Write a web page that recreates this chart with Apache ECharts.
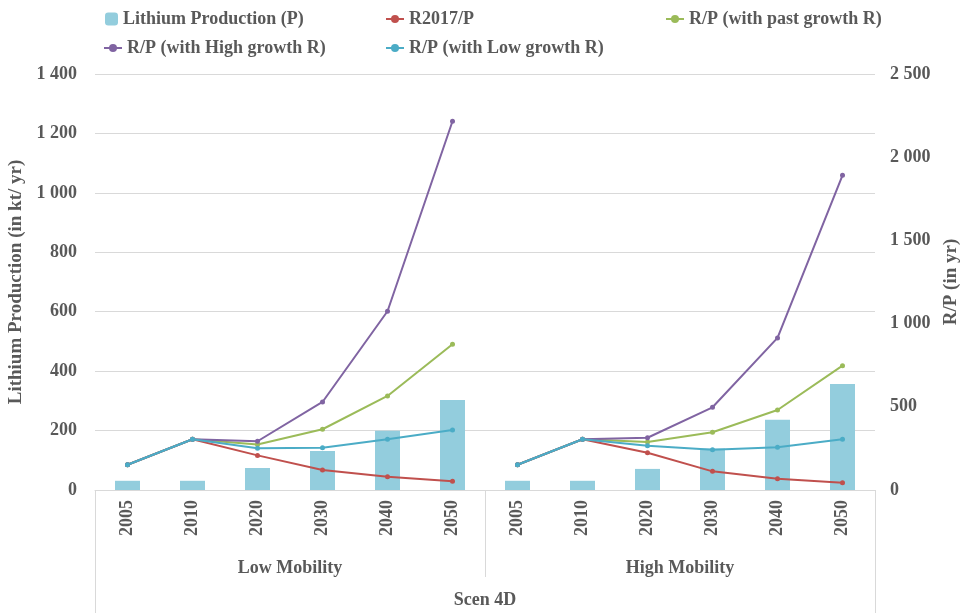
<!DOCTYPE html>
<html>
<head>
<meta charset="utf-8">
<title>Scen 4D - Lithium</title>
<script src="https://cdn.jsdelivr.net/npm/echarts@6/dist/echarts.min.js"></script>
<style>
    html, body { margin: 0; padding: 0; background: #fff; }
    #main { width: 962px; height: 613px; }
</style>
</head>
<body>
<div id="main"></div>
<script>
// categories
var years = ["2005", "2010", "2020", "2030", "2040", "2050"];
var groups = ["Low Mobility", "High Mobility"];
var scenario = ["Scen 4D"];

// Lithium production (kt/yr), left axis
var prodLow = [31, 31, 74, 131, 199, 303];
var prodHigh = [31, 31, 71, 140, 236, 357];

// R/P (yr), right axis
var r2017Low = [152, 305, 208, 120, 80, 52];
var r2017High = [152, 305, 224, 112, 68, 44];
var pastLow = [152, 305, 274, 365, 565, 876];
var pastHigh = [152, 305, 288, 347, 481, 747];
var highLow = [152, 305, 293, 529, 1074, 2216];
var highHigh = [152, 305, 314, 497, 914, 1891];
var lowLow = [152, 305, 251, 254, 305, 361];
var lowHigh = [152, 305, 266, 242, 257, 305];

var leftTicks = { min: 0, max: 1400, interval: 200 };
var rightTicks = { min: 0, max: 2500, interval: 500 };

var charts_view = (function () {
    var FONT = "'Liberation Serif', 'Times New Roman', serif",
        SIZE = 18,
        TEXT = "#595959",
        GRID_LINE = "#d9d9d9";

    // 1 400 style number
    function fmt(v) {
        return String(v).replace(/\B(?=(\d{3})+(?!\d))/g, " ");
    }

    function blanks(n) {
        var a = [];
        for (var i = 0; i < n; i++) { a.push("-"); }
        return a;
    }

    function extend(a, b) {
        for (var k in b) { a[k] = b[k]; }
        return a;
    }

    // low group fills the first 6 slots, high group the last 6 (lines break between)
    function lineSeries(name, color, low, high) {
        var base = {
            name: name,
            type: "line",
            yAxisIndex: 1,
            symbol: "circle",
            symbolSize: 5,
            connectNulls: false,
            lineStyle: { width: 2, color: color },
            itemStyle: { color: color }
        };
        return [
            extend({ data: low.concat(blanks(6)) }, base),
            extend({ data: blanks(6).concat(high) }, base)
        ];
    }

    function legendAt(left, top, name) {
        var isBar = name === "Lithium Production (P)";
        return {
            left: left,
            top: top,
            data: [name],
            itemWidth: isBar ? 13 : 18,
            itemHeight: isBar ? 13 : 10,
            itemGap: 4,
            textStyle: { fontFamily: FONT, fontSize: SIZE, fontWeight: "bold", color: TEXT }
        };
    }

    var init = function () {
        var chart = echarts.init(document.getElementById("main"));
        var cats = years.concat(years);
        var label = { fontFamily: FONT, fontSize: SIZE, fontWeight: "bold", color: TEXT };
        var axisName = { fontFamily: FONT, fontSize: 19, fontWeight: "bold", color: TEXT };

        var series = [{
            name: "Lithium Production (P)",
            type: "bar",
            barWidth: 25,
            itemStyle: { color: "#93cddd" },
            data: prodLow.concat(prodHigh)
        }];
        series = series
            .concat(lineSeries("R2017/P", "#c0504d", r2017Low, r2017High))
            .concat(lineSeries("R/P (with past growth R)", "#9bbb59", pastLow, pastHigh))
            .concat(lineSeries("R/P (with High growth R)", "#8064a2", highLow, highHigh))
            .concat(lineSeries("R/P (with Low growth R)", "#4bacc6", lowLow, lowHigh));

        var option = {
            animation: false,
            backgroundColor: "#fff",
            legend: [
                legendAt(100, 5, "Lithium Production (P)"),
                legendAt(380, 5, "R2017/P"),
                legendAt(660, 5, "R/P (with past growth R)"),
                legendAt(98, 34, "R/P (with High growth R)"),
                legendAt(380, 34, "R/P (with Low growth R)")
            ],
            grid: { left: 95, right: 87, top: 74, bottom: 123, outerBoundsMode: "none" },
            xAxis: [
                {
                    type: "category",
                    data: cats,
                    axisLine: { lineStyle: { color: GRID_LINE, width: 1 } },
                    axisTick: { show: false },
                    axisLabel: extend({ rotate: 90, margin: 10, interval: 0 }, label)
                },
                {
                    type: "category",
                    position: "bottom",
                    data: groups,
                    axisLine: { show: false },
                    axisTick: { show: true, length: 87, lineStyle: { color: GRID_LINE } },
                    axisLabel: extend({ margin: 69 }, label)
                },
                {
                    type: "category",
                    position: "bottom",
                    data: scenario,
                    axisLine: { show: false },
                    axisTick: { show: true, length: 125, lineStyle: { color: GRID_LINE } },
                    axisLabel: extend({ margin: 101 }, label)
                }
            ],
            yAxis: [
                {
                    type: "value",
                    min: leftTicks.min,
                    max: leftTicks.max,
                    interval: leftTicks.interval,
                    name: "Lithium Production (in kt/ yr)",
                    nameLocation: "middle",
                    nameGap: 63,
                    nameRotate: 90,
                    nameTextStyle: axisName,
                    axisLine: { show: false },
                    axisTick: { show: false },
                    splitLine: { lineStyle: { color: GRID_LINE, width: 1 } },
                    axisLabel: extend({ margin: 18, formatter: fmt }, label)
                },
                {
                    type: "value",
                    position: "right",
                    min: rightTicks.min,
                    max: rightTicks.max,
                    interval: rightTicks.interval,
                    name: "R/P (in yr)",
                    nameLocation: "middle",
                    nameGap: 66,
                    nameRotate: 90,
                    nameTextStyle: axisName,
                    axisLine: { show: false },
                    axisTick: { show: false },
                    splitLine: { show: false },
                    axisLabel: extend({ margin: 15, formatter: fmt }, label)
                }
            ],
            series: series
        };

        chart.setOption(option);
        window.addEventListener("resize", function () {
            chart.resize();
        });
    };

    return { init: init };
})();

charts_view.init();
</script>
</body>
</html>
